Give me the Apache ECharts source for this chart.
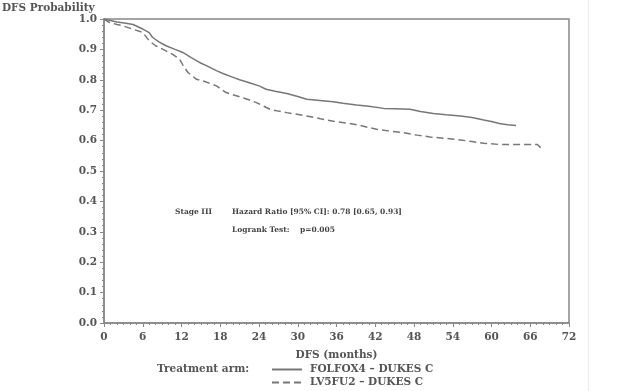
<!DOCTYPE html>
<html>
<head>
<meta charset="utf-8">
<script src="https://cdn.jsdelivr.net/npm/echarts@6/dist/echarts.min.js"></script>
<style>
html,body{margin:0;padding:0;background:#fff;}
#chart{width:619px;height:391px;}
</style>
</head>
<body>
<div id="chart"></div>
<script>
// ---- data ----
const seriesNames = ['FOLFOX4 \u2013 DUKES C', 'LV5FU2 \u2013 DUKES C'];

const folfoxMonths = [0, 1, 2, 3.4, 4.5, 6, 7, 7.5, 8.5, 9.6, 11, 12.2, 13.5, 14.8, 16, 17.4, 18.5, 20, 21, 22.5, 24, 25.1, 26.5, 28.3, 30, 31.4, 33, 35.5, 37, 39.1, 41, 43.3, 45, 47.4, 49, 51, 53, 55.2, 57, 58.8, 60, 61.2, 62.5, 63.8];
const folfoxSurv   = [1.0, 0.995, 0.99, 0.986, 0.982, 0.967, 0.955, 0.94, 0.925, 0.912, 0.9, 0.89, 0.873, 0.857, 0.845, 0.83, 0.82, 0.808, 0.8, 0.79, 0.78, 0.769, 0.762, 0.755, 0.745, 0.736, 0.733, 0.728, 0.723, 0.717, 0.713, 0.706, 0.705, 0.703, 0.696, 0.689, 0.685, 0.681, 0.676, 0.668, 0.663, 0.656, 0.652, 0.65];

const lv5fu2Months = [0, 0.8, 2, 3, 4.4, 6, 7, 8, 9.6, 10.5, 11.7, 12.3, 13, 14.3, 15.5, 17.4, 18.9, 21, 22.3, 23.6, 25.7, 27, 28.3, 31.4, 33.5, 35.5, 37.5, 39.4, 42.2, 44, 46.4, 48.5, 50.5, 53, 55.2, 57, 58.8, 61.4, 64, 67.1, 67.6];
const lv5fu2Surv   = [1.0, 0.989, 0.982, 0.977, 0.967, 0.956, 0.928, 0.912, 0.895, 0.885, 0.868, 0.845, 0.824, 0.802, 0.795, 0.78, 0.758, 0.744, 0.735, 0.725, 0.703, 0.697, 0.692, 0.681, 0.672, 0.664, 0.658, 0.651, 0.637, 0.632, 0.626, 0.618, 0.612, 0.607, 0.602, 0.597, 0.591, 0.587, 0.587, 0.587, 0.577];

const xTicks = [0, 6, 12, 18, 24, 30, 36, 42, 48, 54, 60, 66, 72];
const yTicks = [0.0, 0.1, 0.2, 0.3, 0.4, 0.5, 0.6, 0.7, 0.8, 0.9, 1.0];

const annotations = {
  stage: 'Stage III',
  hr: 'Hazard Ratio [95% CI]: 0.78 [0.65, 0.93]',
  logrank: 'Logrank Test:    p=0.005'
};
const yTitle = 'DFS Probability';
const xTitle = 'DFS (months)';
const legendTitle = 'Treatment arm:';

// ---- chart ----
const FONT = 'DejaVu Serif';
const TXT = '#555';
const AX = '#888';
const zip = (a, b) => a.map((v, i) => [v, b[i]]);
const legendCommon = {
  orient: 'vertical', left: 266, itemWidth: 30, itemHeight: 8, itemGap: 0,
  itemStyle: {opacity: 0},
  textStyle: {fontFamily: FONT, fontSize: 10.5, color: TXT, fontWeight: 'bold', padding: [0, 0, 0, 3]}
};

const chart = echarts.init(document.getElementById('chart'), null, {renderer: 'canvas'});
chart.setOption({
  animation: false,
  backgroundColor: '#fff',
  grid: {left: 104, top: 19, right: 50, bottom: 68, show: true, borderColor: AX, borderWidth: 1.5, backgroundColor: 'transparent'},
  xAxis: {
    type: 'value', min: xTicks[0], max: xTicks[xTicks.length - 1], interval: 6,
    name: xTitle, nameLocation: 'middle', nameGap: 27,
    nameTextStyle: {fontFamily: FONT, fontSize: 10.5, color: TXT, fontWeight: 'bold'},
    axisLine: {show: true, lineStyle: {color: AX, width: 1.5}},
    axisTick: {show: true, length: 4, lineStyle: {color: AX, width: 1}},
    minorTick: {show: true, splitNumber: 6, length: 2, lineStyle: {color: AX}},
    splitLine: {show: false},
    axisLabel: {fontFamily: FONT, fontSize: 10.5, color: TXT, margin: 9, fontWeight: 'bold'}
  },
  yAxis: {
    type: 'value', min: yTicks[0], max: yTicks[yTicks.length - 1], interval: 0.1,
    axisLine: {show: true, lineStyle: {color: AX, width: 1.5}},
    axisTick: {show: true, length: 4, lineStyle: {color: AX, width: 1}},
    minorTick: {show: true, splitNumber: 5, length: 2, lineStyle: {color: AX}},
    splitLine: {show: false},
    axisLabel: {fontFamily: FONT, fontSize: 10.5, color: TXT, margin: 7, fontWeight: 'bold',
      formatter: v => v.toFixed(1)}
  },
  legend: [
    Object.assign({top: 359, data: [seriesNames[0]]}, legendCommon),
    Object.assign({top: 372, data: [seriesNames[1]]}, legendCommon)
  ],
  series: [
    {name: seriesNames[0], type: 'line', symbol: 'none', data: zip(folfoxMonths, folfoxSurv),
     lineStyle: {color: '#777', width: 1.5}, itemStyle: {color: '#777'}},
    {name: seriesNames[1], type: 'line', symbol: 'none', data: zip(lv5fu2Months, lv5fu2Surv),
     lineStyle: {color: '#777', width: 1.5, type: [7, 4]}, itemStyle: {color: '#777'}}
  ],
  graphic: [
    {type: 'text', left: 2, top: 3, style: {text: yTitle, font: 'bold 10.5px "DejaVu Serif"', fill: TXT}},
    {type: 'text', left: 157, top: 364, style: {text: legendTitle, font: 'bold 10.5px "DejaVu Serif"', fill: TXT}},
    {type: 'text', left: 175, top: 208, style: {text: annotations.stage, font: 'bold 7.5px "DejaVu Serif"', fill: '#444'}},
    {type: 'text', left: 232, top: 208, style: {text: annotations.hr, font: 'bold 7.5px "DejaVu Serif"', fill: '#444'}},
    {type: 'text', left: 232, top: 226, style: {text: annotations.logrank, font: 'bold 7.5px "DejaVu Serif"', fill: '#444'}},
    {type: 'line', shape: {x1: 588.5, y1: 0, x2: 588.5, y2: 391}, style: {stroke: '#ececec', lineWidth: 1}}
  ]
});
</script>
</body>
</html>
